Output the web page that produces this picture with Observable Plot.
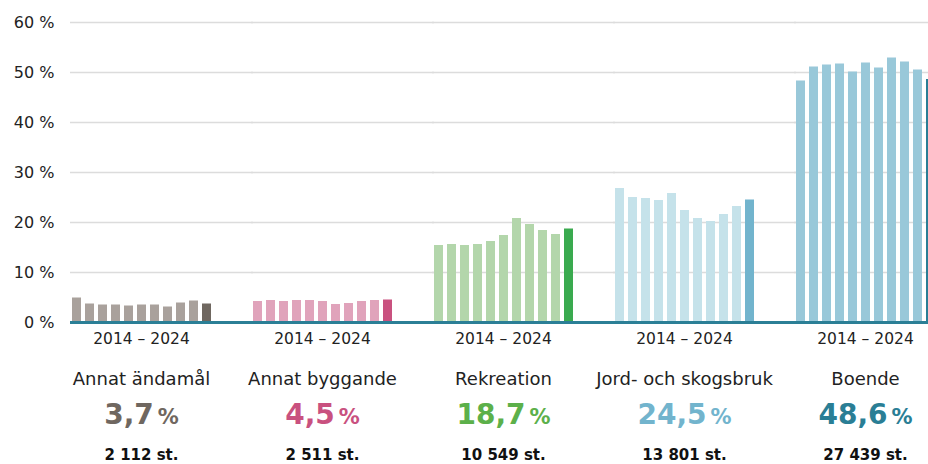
<!DOCTYPE html>
<html>
<head>
<meta charset="utf-8">
<script src="https://cdn.jsdelivr.net/npm/d3@7"></script>
<script src="https://cdn.jsdelivr.net/npm/@observablehq/plot@0.6"></script>
<style>
  html, body { margin: 0; padding: 0; background: #fff; overflow: hidden; }
  #chart { width: 928px; height: 464px; overflow: hidden; }
</style>
</head>
<body>
<div id="chart"></div>
<script>
// ---- data ----
const categories = ["Annat ändamål", "Annat byggande", "Rekreation", "Jord- och skogsbruk", "Boende"];
const years = [2014, 2015, 2016, 2017, 2018, 2019, 2020, 2021, 2022, 2023, 2024];
const annatAndamal = [4.9, 3.7, 3.5, 3.5, 3.3, 3.5, 3.5, 3.1, 3.9, 4.3, 3.7];
const annatByggande = [4.2, 4.4, 4.2, 4.4, 4.4, 4.2, 3.6, 3.8, 4.2, 4.4, 4.5];
const rekreation = [15.4, 15.6, 15.4, 15.6, 16.2, 17.4, 20.8, 19.6, 18.4, 17.6, 18.7];
const jordSkog = [26.8, 25.0, 24.8, 24.4, 25.8, 22.4, 20.8, 20.2, 21.6, 23.2, 24.5];
const boende = [48.3, 51.1, 51.5, 51.7, 50.1, 51.9, 50.9, 52.9, 52.1, 50.5, 48.6];
const shareLabels = ["3,7", "4,5", "18,7", "24,5", "48,6"];
const countLabels = ["2 112 st.", "2 511 st.", "10 549 st.", "13 801 st.", "27 439 st."];
const periodLabel = "2014 – 2024";
const yTicks = [0, 10, 20, 30, 40, 50, 60];

// colours
const lightColors = ["#a9a19c", "#e0a3bb", "#b3d6ab", "#c5e2ea", "#99c8d9"];
const darkColors  = ["#6f6760", "#c9517f", "#3aaa4f", "#72b4cd", "#2a7e95"];
const textColors  = ["#6f6760", "#c9517f", "#5cb04a", "#72b4cd", "#2a7e95"];

const series = [annatAndamal, annatByggande, rekreation, jordSkog, boende];
const rows = [];
categories.forEach((c, i) => {
  series[i].forEach((v, j) => {
    rows.push({
      category: c,
      year: years[j],
      value: v,
      color: j === years.length - 1 ? darkColors[i] : lightColors[i]
    });
  });
});
const cats = categories.map((c, i) => ({
  category: c, share: shareLabels[i], count: countLabels[i], color: textColors[i]
}));

const font = "'DejaVu Sans', 'Noto Sans', sans-serif";

const chart = Plot.plot({
  width: 928,
  height: 464,
  marginTop: 22,
  marginBottom: 142,
  marginLeft: 69,
  marginRight: -9,
  style: { fontFamily: font, fontSize: "16px", color: "#222", background: "#fff", overflow: "hidden" },
  fx: { domain: categories, paddingInner: 0.224, paddingOuter: 0, axis: null, label: null },
  x: { domain: years, paddingInner: 0.32, paddingOuter: 0, axis: null, label: null },
  y: { domain: [0, 60], axis: null },
  color: { type: "identity" },
  marks: [
    // grid lines, stretched across the gaps between the facets
    Plot.ruleY(yTicks, { stroke: "#dcdcdc", strokeWidth: 1.5, insetLeft: -1, insetRight: -42 }),
    Plot.axisY({
      ticks: yTicks, tickFormat: d => `${d} %`, tickSize: 0, tickPadding: 17,
      fontSize: 16, fill: "#222", label: null
    }),
    Plot.barY(rows, { fx: "category", x: "year", y: "value", fill: "color", inset: 0 }),
    Plot.ruleY([0], { stroke: "#2b7f96", strokeWidth: 3, insetLeft: -1, insetRight: -42 }),
    Plot.text(cats, { fx: "category", text: () => periodLabel, frameAnchor: "bottom", dy: 21, fontSize: 15.5, fill: "#222" }),
    Plot.text(cats, { fx: "category", text: "category", frameAnchor: "bottom", dy: 62, fontSize: 18, fill: "#222" }),
    Plot.text(cats, { fx: "category", text: "share", frameAnchor: "bottom", dy: 101, fontSize: 28, fontWeight: "bold", fill: "color" }),
    Plot.text(cats, { fx: "category", text: "count", frameAnchor: "bottom", dy: 137, fontSize: 15, fontWeight: "bold", fill: "#111" })
  ]
});

// append a smaller "%" to the big share numbers
d3.select(chart).selectAll("text").each(function () {
  if (shareLabels.includes(this.textContent)) {
    d3.select(this).append("tspan").attr("dx", "4").attr("font-size", "21px").text("%");
  }
});

document.getElementById("chart").appendChild(chart);
</script>
</body>
</html>
